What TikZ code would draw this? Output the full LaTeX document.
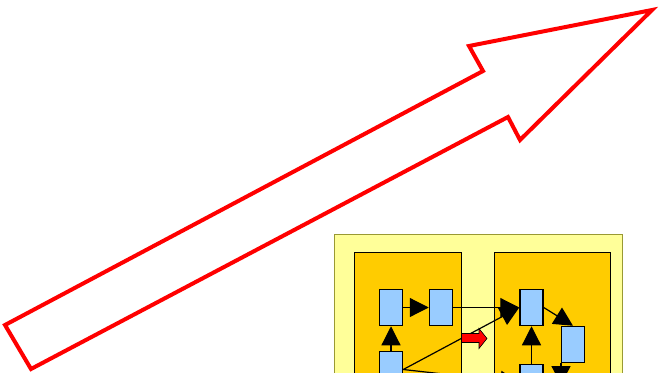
\documentclass[tikz,border=0pt]{standalone}
\usepackage{tikz}
\usetikzlibrary{arrows.meta}
\definecolor{paleyellow}{HTML}{FFFF99}
\definecolor{amber}{HTML}{FFCC00}
\definecolor{skyblue}{HTML}{99CCFF}
\definecolor{boardedge}{HTML}{999933}
\tikzset
{
  board/.style={draw=boardedge,fill=paleyellow,line width=1pt},
  stage/.style={draw=black,fill=amber,line width=1pt},
  cell/.style={draw=black,fill=skyblue,line width=1.5pt,minimum width=23pt,minimum height=36pt,inner sep=0pt},
  flow/.style={draw=black,line width=1.2pt,-{Triangle[length=19pt,width=19pt]}},
  bigarrow/.style={draw=red,line width=4pt,line join=miter}
}

\begin{document}
\begin{tikzpicture}[x=1pt,y=-1pt]
        \useasboundingbox (0,0) rectangle (661,372);
        \clip (0,0) rectangle (661,372);

        % Big outlined arrow
        \draw[bigarrow] (5,325) -- (483,71) -- (469,46) -- (652,10) -- (520,140) -- (508,117) -- (31,369) -- cycle;

        % Panels
        \draw[board] (334,234.5) rectangle (622.5,400);
        \draw[stage] (354.5,252) rectangle (461,400);
        \draw[stage] (494.5,252) rectangle (610,400);

        % Blocks
        \node[cell] (a) at (391,307.5) {};
        \node[cell] (b) at (441,307.5) {};
        \node[cell] (c) at (391,369.5) {};
        \node[cell] (d) at (531.5,307.5) {};
        \node[cell] (e) at (573,344.5) {};
        \node[cell] (f) at (531.5,382.5) {};
        \coordinate (g) at (561,385);

        % Connectors
        \draw[flow] (c) -- (a);
        \draw[flow] (a) -- (b);
        \draw[flow] (b.east) -- (d.west);
        \draw[flow] (c.east) -- (d.west);
        \draw[flow] (c.east) -- (f.west);
        \draw[flow] (f) -- (d);
        \draw[flow] (d.east) -- (e.north);
        \draw[flow] (e.south -| g) -- (g);

        % Small red arrow between the panels
        \filldraw[fill=red,draw=black,line width=0.6pt] (461.5,333.5) -- (479,333.5) -- (479,328.5) -- (487,338.5)
            -- (479,348.5) -- (479,342.5) -- (461.5,342.5) -- cycle;
    \end{tikzpicture}
\end{document}
